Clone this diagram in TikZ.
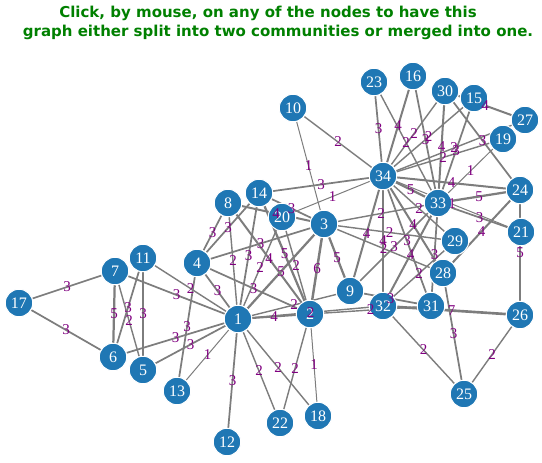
\documentclass[tikz,border=0pt]{standalone}
\usepackage{fontspec}
\setmainfont{Liberation Serif}
\newfontfamily\titlefont{DejaVu Sans}
\definecolor{nodeblue}{RGB}{31,119,180}
\definecolor{labpurple}{RGB}{128,0,128}
\definecolor{edgegray}{RGB}{125,125,125}
\definecolor{titlegreen}{RGB}{0,128,0}
\pgfdeclarelayer{edges}
\pgfsetlayers{edges,main}
\tikzset{
  vtx/.style={circle, fill=nodeblue, draw=white, line width=1pt, minimum size=27.5pt, inner sep=0pt, text=white, font=\fontsize{16}{16}\selectfont},
  lbl/.style={text=labpurple, font=\fontsize{15}{15}\selectfont, inner sep=0pt, anchor=center},
  edgeline/.style={draw=edgegray},
  titletext/.style={text=titlegreen, font=\titlefont\bfseries\fontsize{15}{15}\selectfont, inner sep=0pt}
}
\newcommand\kedge[3]{%
  \pgfmathsetmacro\kew{sqrt(#3)}%
  \begin{pgfonlayer}{edges}\draw[edgeline, line width=\kew pt] (n#1) -- (n#2);\end{pgfonlayer}%
  \path (n#1) -- node[lbl]{#3} (n#2);}
\begin{document}
\begin{tikzpicture}[x=1pt,y=-1pt]
\useasboundingbox (0,0) rectangle (542,463);
\node[titletext] (t1) at (268,13) {Click, by mouse, on any of the nodes to have this};
\node[titletext] (t2) at (278,32) {graph either split into two communities or merged into one.};
\foreach \i/\x/\y in {1/238/319,2/310/314,3/324/224,4/197/263,5/143/370,6/113/357,7/115/271,8/228/203,9/350/291,10/293/108,11/143/258,12/227/442,13/177/391,14/259/193,15/474/98,16/413/76,17/19/303,18/318/416,19/503/139,20/282/217,21/521/232,22/280/423,23/374/82,24/520/190,25/464/394,26/520/315,27/525/120,28/443/273,29/455/241,30/445/91,31/431/306,32/383/306,33/438/203,34/383/176}
  \node[vtx] (n\i) at (\x,\y) {\i};
\kedge{1}{2}{4}\kedge{1}{3}{5}\kedge{1}{4}{3}\kedge{1}{5}{3}\kedge{1}{6}{3}\kedge{1}{7}{3}
\kedge{1}{8}{2}\kedge{1}{9}{2}\kedge{1}{11}{2}\kedge{1}{12}{3}\kedge{1}{13}{1}\kedge{1}{14}{3}
\kedge{1}{18}{2}\kedge{1}{20}{2}\kedge{1}{22}{2}\kedge{1}{32}{2}
\kedge{2}{3}{6}\kedge{2}{4}{3}\kedge{2}{8}{4}\kedge{2}{14}{5}\kedge{2}{18}{1}\kedge{2}{20}{2}
\kedge{2}{22}{2}\kedge{2}{31}{2}
\kedge{3}{4}{3}\kedge{3}{8}{4}\kedge{3}{9}{5}\kedge{3}{10}{1}\kedge{3}{14}{3}\kedge{3}{28}{2}
\kedge{3}{29}{2}\kedge{3}{33}{2}
\kedge{4}{8}{3}\kedge{4}{13}{3}\kedge{4}{14}{3}
\kedge{5}{7}{2}\kedge{5}{11}{3}
\kedge{6}{7}{5}\kedge{6}{11}{3}\kedge{6}{17}{3}
\kedge{7}{17}{3}
\kedge{9}{31}{3}\kedge{9}{33}{3}\kedge{9}{34}{4}
\kedge{10}{34}{2}\kedge{14}{34}{3}
\kedge{15}{33}{3}\kedge{15}{34}{2}\kedge{16}{33}{3}\kedge{16}{34}{4}
\kedge{19}{33}{1}\kedge{19}{34}{2}\kedge{20}{34}{1}\kedge{21}{33}{3}\kedge{21}{34}{1}
\kedge{23}{33}{2}\kedge{23}{34}{3}
\kedge{24}{26}{5}\kedge{24}{28}{4}\kedge{24}{30}{3}\kedge{24}{33}{5}\kedge{24}{34}{4}
\kedge{25}{26}{2}\kedge{25}{28}{3}\kedge{25}{32}{2}\kedge{26}{32}{7}
\kedge{27}{30}{4}\kedge{27}{34}{2}\kedge{28}{34}{4}\kedge{29}{32}{2}\kedge{29}{34}{2}
\kedge{30}{33}{4}\kedge{30}{34}{2}\kedge{31}{33}{3}\kedge{31}{34}{3}
\kedge{32}{33}{4}\kedge{32}{34}{4}\kedge{33}{34}{5}
\end{tikzpicture}
\end{document}
